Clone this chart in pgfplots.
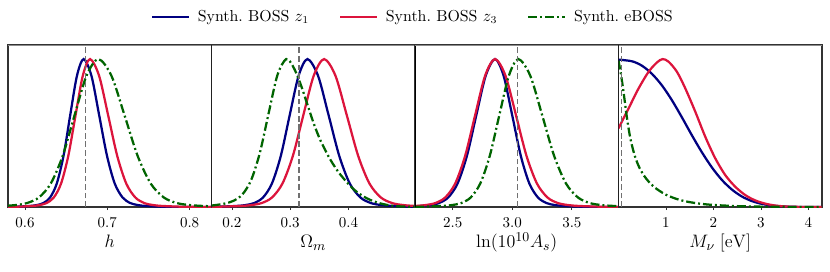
\documentclass[border=0pt]{standalone}
\usepackage{pgfplots}
\pgfplotsset{compat=1.18}
\definecolor{navyc}{RGB}{0,0,128}
\definecolor{crim}{RGB}{220,20,60}
\definecolor{dgreen}{RGB}{0,100,0}
\definecolor{vgray}{RGB}{112,112,112}
\pgfplotsset{
 panel/.style={scale only axis, width=135.67pt, height=108pt, ymin=0, ymax=1.095, ytick=\empty,
   axis line style={black!80, line width=0.7pt}, tick align=outside, major tick length=2pt,
   xtick pos=bottom, xtick style={black!80, line width=0.5pt},
   xticklabel style={font=\normalsize, anchor=base, yshift=-11.7pt, inner sep=1pt},
   xlabel style={font=\fontsize{12.5}{15}\selectfont, at={(axis description cs:0.5,-0.252)}, anchor=base, inner sep=1pt}},
 cb/.style={navyc, line width=1.5pt, smooth, mark=none},
 cr/.style={crim, line width=1.5pt, smooth, mark=none},
 cg/.style={dgreen, line width=1.5pt, smooth, mark=none, dash pattern=on 6pt off 2pt on 1.3pt off 2pt},
 vref/.style={vgray, line width=1.05pt, dash pattern=on 3.8pt off 1.9pt, forget plot},
}
\begin{document}
\begin{tikzpicture}
\path[use as bounding box] (0,0) rectangle (553.33pt,180.67pt);
% ---------------- panel 1: h
\begin{axis}[panel, at={(5.33pt,42.67pt)}, anchor=south west,
  xmin=0.5793, xmax=0.8266, xtick={0.6,0.7,0.8}, xticklabels={0.6,0.7,0.8}, xlabel={$h$},
  legend columns=3,
  legend style={draw=none, fill=none, at={(1.992,1.173)}, anchor=center, font=\fontsize{10.6}{12.7}\selectfont,
    /tikz/every odd column/.append style={column sep=3pt},
    /tikz/every even column/.append style={column sep=18pt}},
  legend image code/.code={\draw[#1] (0pt,0pt) -- (24.7pt,0pt);}]
\addplot[cb] coordinates {(0.5793,0.001) (0.5897,0.0022) (0.6060,0.0071) (0.6142,0.0129) (0.6223,0.0267) (0.6305,0.0646) (0.6386,0.1588) (0.6468,0.3462) (0.6549,0.6203) (0.6631,0.8869) (0.6712,1) (0.6807,0.8869) (0.6901,0.6203) (0.6996,0.3462) (0.7090,0.1588) (0.7185,0.0646) (0.7279,0.0267) (0.7374,0.0129) (0.7468,0.0071) (0.7657,0.0022) (0.7846,0.0006) (0.8266,0)};
\addlegendentry{Synth.\ BOSS $z_1$}
\addplot[cr] coordinates {(0.5793,0.001) (0.5910,0.0022) (0.6086,0.0071) (0.6174,0.0129) (0.6262,0.0267) (0.6350,0.0646) (0.6438,0.1588) (0.6526,0.3462) (0.6614,0.6203) (0.6702,0.8869) (0.6790,1) (0.6900,0.8869) (0.7010,0.6203) (0.7120,0.3462) (0.7230,0.1588) (0.7340,0.0646) (0.7450,0.0267) (0.7560,0.0129) (0.7670,0.0071) (0.7890,0.0022) (0.8110,0.0006) (0.8266,0.0002)};
\addlegendentry{Synth.\ BOSS $z_3$}
\addplot[cg] coordinates {(0.5793,0.009) (0.5880,0.0129) (0.6024,0.0267) (0.6169,0.0646) (0.6313,0.1588) (0.6458,0.3462) (0.6602,0.6203) (0.6747,0.8869) (0.6891,1) (0.7050,0.8869) (0.7209,0.6203) (0.7368,0.3462) (0.7527,0.1588) (0.7686,0.0646) (0.7845,0.0267) (0.8004,0.0129) (0.8163,0.0071) (0.8266,0.005)};
\addlegendentry{Synth.\ eBOSS}
\addplot[vref] coordinates {(0.6736,0) (0.6736,1.095)};
\draw[black!45, line width=0.7pt] (rel axis cs:0,1) -- (rel axis cs:1,1);
\end{axis}
% ---------------- panel 2: Omega_m
\begin{axis}[panel, at={(141.0pt,42.67pt)}, anchor=south west,
  xmin=0.165, xmax=0.5143, xtick={0.2,0.3,0.4}, xticklabels={0.2,0.3,0.4}, xlabel={$\Omega_m$}]
\addplot[cb] coordinates {(0.165,0.001) (0.1772,0.0022) (0.2077,0.0071) (0.2230,0.0129) (0.2382,0.0267) (0.2535,0.0646) (0.2687,0.1588) (0.2840,0.3462) (0.2992,0.6203) (0.3145,0.8869) (0.3297,1) (0.3479,0.8869) (0.3660,0.6203) (0.3842,0.3462) (0.4023,0.1588) (0.4205,0.0646) (0.4386,0.0267) (0.4568,0.0129) (0.4749,0.0071) (0.5112,0.0022) (0.5143,0.002)};
\addplot[cr] coordinates {(0.165,0.0013) (0.1796,0.0022) (0.2153,0.0071) (0.2332,0.0129) (0.2511,0.0267) (0.2689,0.0646) (0.2868,0.1588) (0.3047,0.3462) (0.3226,0.6203) (0.3404,0.8869) (0.3583,1) (0.3778,0.8869) (0.3972,0.6203) (0.4167,0.3462) (0.4361,0.1588) (0.4556,0.0646) (0.4750,0.0267) (0.4945,0.0129) (0.5143,0.0071)};
\addplot[cg] coordinates {(0.165,0.010) (0.1731,0.0138) (0.1881,0.0236) (0.2031,0.0425) (0.2181,0.0853) (0.2331,0.1825) (0.2481,0.3677) (0.2631,0.6342) (0.2781,0.8912) (0.2931,1) (0.305,0.95) (0.317,0.84) (0.329,0.70) (0.340,0.57) (0.352,0.45) (0.369,0.32) (0.386,0.22) (0.409,0.12) (0.431,0.06) (0.454,0.025) (0.477,0.008) (0.50,0.002) (0.5143,0.001)};
\addplot[vref] coordinates {(0.3153,0) (0.3153,1.095)};
\draw[black, line width=0.7pt] (rel axis cs:0,0) -- (rel axis cs:0,1);
\draw[black!45, line width=0.7pt] (rel axis cs:0,1) -- (rel axis cs:1,1);
\end{axis}
% ---------------- panel 3: ln(10^10 A_s)
\begin{axis}[panel, at={(276.67pt,42.67pt)}, anchor=south west,
  xmin=2.183, xmax=3.892, xtick={2.5,3.0,3.5}, xticklabels={2.5,3.0,3.5}, xlabel={$\ln(10^{10}A_s)$}]
\addplot[cb] coordinates {(2.183,0.005) (2.2258,0.0071) (2.3045,0.0129) (2.3831,0.0267) (2.4618,0.0646) (2.5404,0.1588) (2.6191,0.3462) (2.6977,0.6203) (2.7764,0.8869) (2.855,1) (2.9271,0.8869) (2.9991,0.6203) (3.0712,0.3462) (3.1432,0.1588) (3.2153,0.0646) (3.2873,0.0267) (3.3594,0.0129) (3.4314,0.0071) (3.5755,0.0022) (3.7196,0.0006) (3.892,0)};
\addplot[cr] coordinates {(2.183,0.007) (2.1862,0.0071) (2.2698,0.0129) (2.3534,0.0267) (2.4370,0.0646) (2.5206,0.1588) (2.6042,0.3462) (2.6878,0.6203) (2.7714,0.8869) (2.855,1) (2.943,0.8869) (3.031,0.6203) (3.119,0.3462) (3.207,0.1588) (3.295,0.0646) (3.383,0.0267) (3.471,0.0129) (3.559,0.0071) (3.735,0.0022) (3.892,0.0007)};
\addplot[cg] coordinates {(2.183,0.0013) (2.251,0.0022) (2.411,0.0071) (2.491,0.0129) (2.571,0.0267) (2.651,0.0646) (2.731,0.1588) (2.811,0.3462) (2.891,0.6203) (2.971,0.8869) (3.051,1) (3.151,0.8869) (3.251,0.6203) (3.351,0.3462) (3.451,0.1588) (3.551,0.0646) (3.651,0.0267) (3.751,0.0129) (3.851,0.0071) (3.892,0.005)};
\addplot[vref] coordinates {(3.044,0) (3.044,1.095)};
\draw[black, line width=0.7pt] (rel axis cs:0,0) -- (rel axis cs:0,1);
\draw[black!45, line width=0.7pt] (rel axis cs:0,1) -- (rel axis cs:1,1);
\end{axis}
% ---------------- panel 4: M_nu
\begin{axis}[panel, at={(412.33pt,42.67pt)}, anchor=south west,
  xmin=0, xmax=4.288, xtick={1,2,3,4}, xticklabels={1,2,3,4}, xlabel={$M_\nu\;[\mathrm{eV}]$}]
\addplot[cb] coordinates {(0,0.996) (0.284,0.985) (0.494,0.955) (0.705,0.900) (0.915,0.822) (1.125,0.722) (1.336,0.606) (1.546,0.485) (1.757,0.370) (1.967,0.268) (2.178,0.183) (2.389,0.118) (2.599,0.071) (2.810,0.040) (3.020,0.021) (3.231,0.010) (3.44,0.004) (3.65,0.0015) (3.9,0.0003) (4.288,0)};
\addplot[cr] coordinates {(0,0.532) (0.213,0.667) (0.424,0.802) (0.634,0.914) (0.81,0.977) (0.93,1.0) (1.055,0.982) (1.231,0.914) (1.407,0.802) (1.618,0.644) (1.828,0.475) (2.039,0.329) (2.249,0.216) (2.460,0.137) (2.669,0.081) (2.878,0.045) (3.089,0.023) (3.300,0.010) (3.5,0.004) (3.75,0.001) (4.288,0)};
\addplot[cg] coordinates {(0,0.99) (0.05,0.90) (0.105,0.78) (0.175,0.61) (0.246,0.47) (0.33,0.36) (0.42,0.28) (0.53,0.215) (0.64,0.17) (0.74,0.138) (0.85,0.112) (1.0,0.083) (1.2,0.057) (1.4,0.039) (1.7,0.023) (2.0,0.014) (2.5,0.006) (3.0,0.0025) (3.5,0.001) (4.288,0)};
\addplot[vref] coordinates {(0.06,0) (0.06,1.095)};
\draw[black, line width=0.7pt] (rel axis cs:0,0) -- (rel axis cs:0,1);
\draw[black!45, line width=0.7pt] (rel axis cs:0,1) -- (rel axis cs:1,1);
\end{axis}
\end{tikzpicture}
\end{document}
